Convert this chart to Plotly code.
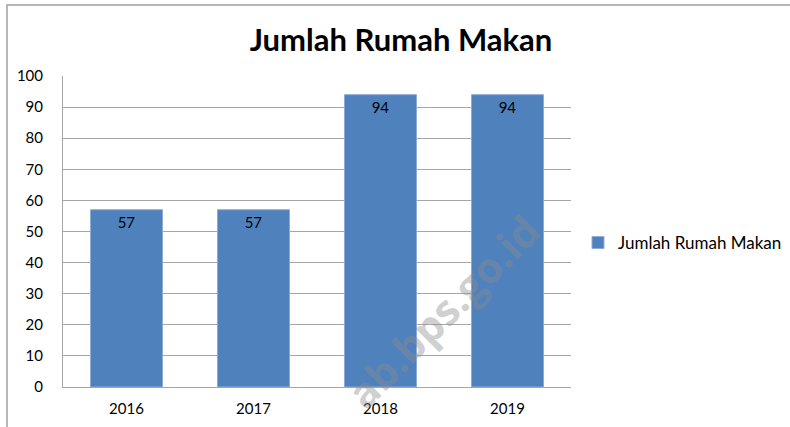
import plotly.graph_objects as go

years = ["2016", "2017", "2018", "2019"]
jumlah = [57, 57, 94, 94]
series_name = "Jumlah Rumah Makan"
title_text = "Jumlah Rumah Makan"
y_ticks = [0, 10, 20, 30, 40, 50, 60, 70, 80, 90, 100]

W, H = 790, 427
L, R, T, B = 63, 219, 76, 40
pw, ph = W - L - R, H - T - B

def px(x):
    return (x - L) / pw

def py(y):
    return (H - B - y) / ph

FONT = "Lato"
GRID = "#A6A6A6"

fig = go.Figure()
fig.add_trace(go.Bar(
    x=years, y=jumlah, name=series_name,
    marker=dict(color="#4F81BD", line=dict(color="#8EAADB", width=1)),
    width=0.567,
    text=[str(v) for v in jumlah],
    textposition="inside", insidetextanchor="end",
    textfont=dict(family=FONT, size=15, color="#000000"),
    showlegend=True,
))

fig.update_layout(
    width=W, height=H,
    margin=dict(l=L, r=R, t=T, b=B, autoexpand=False),
    paper_bgcolor="white", plot_bgcolor="white",
    font=dict(family=FONT, size=15, color="#000000"),
    title=dict(text="<b>" + title_text + "</b>", x=401 / W, y=1 - 40 / H,
               xanchor="center", yanchor="middle", automargin=False,
               font=dict(family=FONT, size=31, color="#000000")),
    showlegend=True,
    legend=dict(x=px(578), y=py(243), xanchor="left", yanchor="middle",
                font=dict(family=FONT, size=17, color="#000000"),
                bgcolor="rgba(0,0,0,0)", itemwidth=30),
    bargap=0.433,
    xaxis=dict(showgrid=False, showline=True, linecolor=GRID, linewidth=1,
               ticks="", ticklabelstandoff=8, automargin=False,
               tickfont=dict(family=FONT, size=15, color="#000000")),
    yaxis=dict(range=[0, 100], tickvals=y_ticks, showgrid=True, gridcolor=GRID,
               gridwidth=1, showline=True, linecolor=GRID, linewidth=1,
               zeroline=False, ticks="", ticklabelstandoff=16, automargin=False,
               tickfont=dict(family=FONT, size=15, color="#000000")),
    shapes=[dict(type="rect", xref="paper", yref="paper",
                 x0=px(7), x1=px(820), y0=py(460), y1=py(5),
                 line=dict(color="#A0A0A0", width=1.5), fillcolor="rgba(0,0,0,0)",
                 layer="below")],
    annotations=[dict(text="<b>ab.bps.go.id</b>", xref="paper", yref="paper",
                      x=px(442), y=py(311), xanchor="center", yanchor="middle",
                      showarrow=False, textangle=-45,
                      font=dict(family="Open Sans", size=42, color="rgba(140,140,140,0.42)"))],
)

fig.write_html("out.html", config={"displayModeBar": False},
               post_script="document.body.style.margin='0';document.body.style.padding='0';")
